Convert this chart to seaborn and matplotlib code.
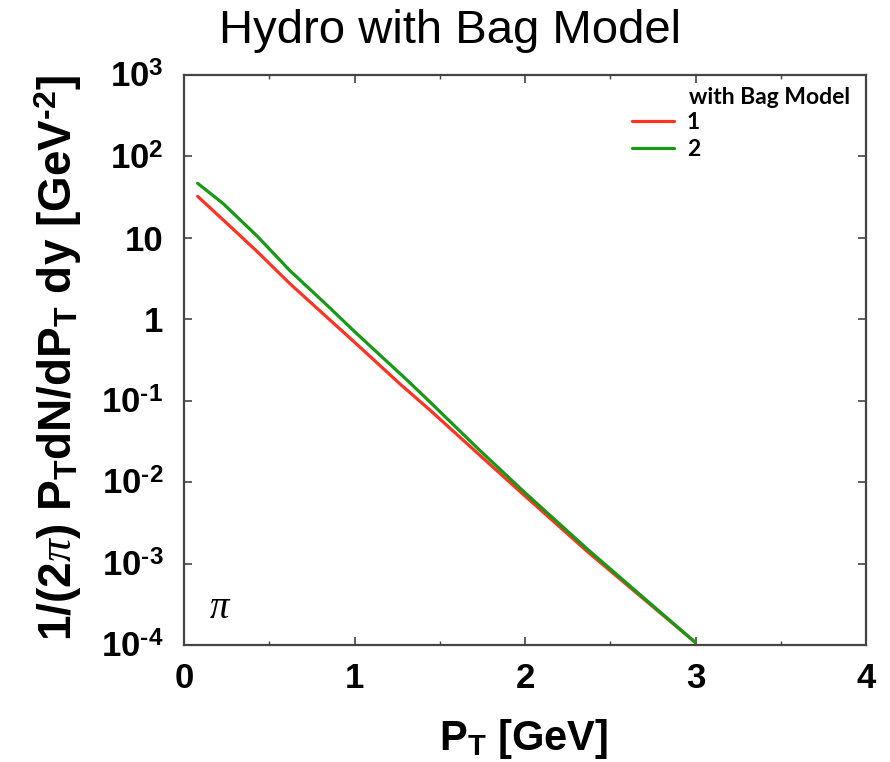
import numpy as np
import pandas as pd
import matplotlib
matplotlib.use("Agg")
import matplotlib.pyplot as plt
import seaborn as sns

# ---- data ----
pt_1 = [0.08, 0.23, 0.43, 0.62, 0.82, 1.01, 1.27, 1.44, 1.73, 2.00, 2.37, 3.00]
log_y_1 = [1.51, 1.22, 0.83, 0.44, 0.06, -0.30, -0.80, -1.11, -1.66, -2.17, -2.86, -3.97]
pt_2 = [0.08, 0.23, 0.43, 0.62, 0.82, 1.01, 1.31, 1.44, 1.73, 2.00, 2.37, 3.00]
log_y_2 = [1.67, 1.42, 1.02, 0.60, 0.21, -0.17, -0.75, -1.01, -1.60, -2.13, -2.83, -3.97]
series_names = ["1", "2"]
series_colors = ["#ff3322", "#169a16"]

HY = "\u2010"
x_ticks = [0, 1, 2, 3, 4]
x_tick_labels = ["0", "1", "2", "3", "4"]
y_ticks = [1e-4, 1e-3, 1e-2, 1e-1, 1, 10, 1e2, 1e3]
y_tick_labels = ["10$^{" + HY + "\\mathrm{4}}$", "10$^{" + HY + "\\mathrm{3}}$",
                 "10$^{" + HY + "\\mathrm{2}}$", "10$^{" + HY + "\\mathrm{1}}$",
                 "1", "10", "10$^{\\mathrm{2}}$", "10$^{\\mathrm{3}}$"]

df = pd.concat([
    pd.DataFrame({"pt": pt_1, "y": np.power(10.0, log_y_1), "set": series_names[0]}),
    pd.DataFrame({"pt": pt_2, "y": np.power(10.0, log_y_2), "set": series_names[1]}),
])

sns.set_theme(style="ticks")
plt.rcParams["font.family"] = ["Liberation Sans", "DejaVu Sans"]
plt.rcParams["text.color"] = "black"
plt.rcParams["axes.labelcolor"] = "black"
plt.rcParams["mathtext.fontset"] = "custom"
plt.rcParams["mathtext.rm"] = "Liberation Sans:bold"
plt.rcParams["mathtext.bf"] = "Liberation Sans:bold"
plt.rcParams["mathtext.it"] = "Liberation Serif:italic"

W, H = 890, 762
fig = plt.figure(figsize=(W / 100, H / 100), dpi=100)
L, R, T, B = 184, 866, 75, 645
ax = fig.add_axes([L / W, 1 - B / H, (R - L) / W, (B - T) / H])

sns.lineplot(data=df, x="pt", y="y", hue="set", palette=series_colors,
             linewidth=2.3, ax=ax, sort=True, estimator=None, legend=True)

ax.set_yscale("log")
ax.set_xlim(0, 4)
ax.set_ylim(1e-4, 1e3)
ax.set_xticks(x_ticks)
ax.set_xticklabels(x_tick_labels, fontsize=25, fontweight="bold")
ax.set_xticks(np.arange(0.5, 4, 1.0), minor=True)
ax.set_yticks(y_ticks)
ax.set_yticklabels(y_tick_labels, fontsize=25, fontweight="bold")
ax.yaxis.set_minor_locator(matplotlib.ticker.NullLocator())
ax.tick_params(axis="both", which="major", direction="in", length=6, width=1.2,
               top=True, right=True, colors="#444444", labelcolor="black")
ax.tick_params(axis="x", which="major", pad=12)
ax.tick_params(axis="y", which="major", pad=15)
ax.tick_params(axis="x", which="minor", direction="in", length=3, width=1.0,
               top=True, colors="#444444")
for s in ax.spines.values():
    s.set_linewidth(1.6)
    s.set_color("#444444")

xl = ax.set_xlabel("P$_{\\mathrm{T}}$ [GeV]", fontsize=30, fontweight="bold")
xl.set_va("baseline")
ax.xaxis.set_label_coords((524 - L) / (R - L), -(750 - B) / (B - T))
yl = ax.set_ylabel("1/(2$\\pi$) P$_{\\mathrm{T}}$dN/dP$_{\\mathrm{T}}$ dy [GeV$^{"
                   + HY + "\\mathrm{2}}$]", fontsize=33, fontweight="bold")
yl.set_va("center")
ax.yaxis.set_label_coords((58 - L) / (R - L), (B - 358) / (B - T))

ax.text(0.21, 10 ** -3.55, "$\\pi$", fontsize=28, ha="center", va="center")

fig.text(450 / W, 1 - 43 / H, "Hydro with Bag Model", fontsize=34,
         ha="center", va="baseline", color="black")

fig.text(850 / W, 1 - 98 / H, "with Bag Model", fontsize=16.5, ha="right", va="center",
         family="Lato", weight="bold", color="black")
leg = ax.legend(loc="upper left",
                bbox_to_anchor=(632 / W, 1 - 112 / H), bbox_transform=fig.transFigure,
                frameon=False, handlelength=1.85, handletextpad=0.55,
                labelspacing=0.28, borderaxespad=0, borderpad=0,
                prop={"family": "Lato", "weight": "bold", "size": 16.5})

fig.savefig("out.png", dpi=100)
